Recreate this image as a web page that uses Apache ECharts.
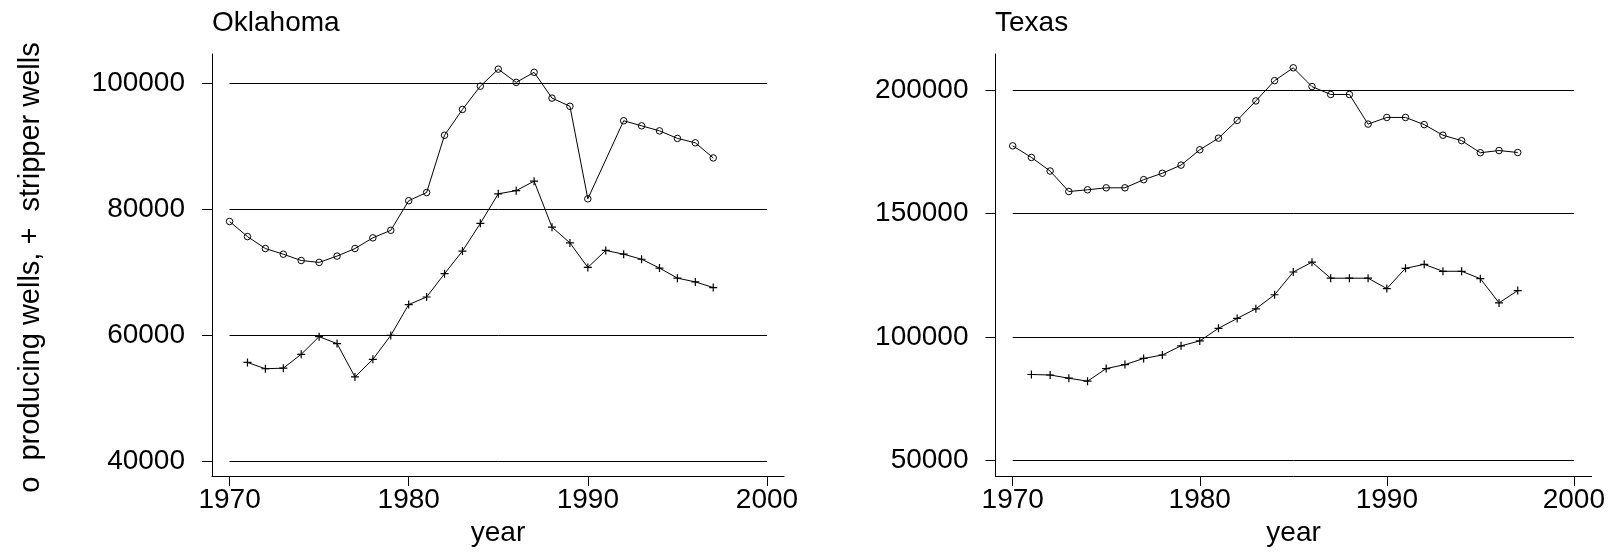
<!DOCTYPE html>
<html>
<head>
<meta charset="utf-8">
<title>Producing and stripper wells</title>
<script src="https://cdn.jsdelivr.net/npm/echarts@6/dist/echarts.min.js"></script>
<style>
  html, body { margin: 0; padding: 0; background: #fff; }
  #chart { width: 1608px; height: 552px; }
</style>
</head>
<body>
<div id="chart"></div>
<script>
// Oil wells by year, 1970-1997
const years = [1970, 1971, 1972, 1973, 1974, 1975, 1976, 1977, 1978, 1979,
               1980, 1981, 1982, 1983, 1984, 1985, 1986, 1987, 1988, 1989,
               1990, 1991, 1992, 1993, 1994, 1995, 1996, 1997];

const okProducing = [78100, 75700, 73800, 72900, 71900, 71600, 72600, 73800, 75500, 76700,
                     81400, 82700, 91800, 95900, 99600, 102300, 100200, 101800, 97700, 96400,
                     81700, null, 94100, 93300, 92500, 91300, 90600, 88200];
const okStripper = [null, 55700, 54700, 54800, 57000, 59800, 58700, 53400, 56200, 60000,
                    64900, 66100, 69800, 73400, 77800, 82500, 83000, 84500, 77200, 74700,
                    70800, 73500, 72900, 72100, 70700, 69100, 68500, 67600];

const txProducing = [177500, 172800, 167300, 159000, 159700, 160500, 160500, 163800, 166400, 169700,
                     175900, 180600, 187800, 195700, 203900, 209100, 201500, 198300, 198300, 186300,
                     189000, 189000, 186100, 181800, 179600, 174700, 175600, 174800];
const txStripper = [null, 84900, 84700, 83400, 82200, 87300, 88900, 91400, 92800, 96500,
                    98500, 103600, 107600, 111500, 117200, 126400, 130400, 123900, 123900, 123900,
                    119700, 127900, 129500, 126700, 126700, 123700, 113900, 118900];

const panelTitles = ['Oklahoma', 'Texas'];
const yearTicks = [1970, 1980, 1990, 2000];
const okTicks = [40000, 60000, 80000, 100000];
const txTicks = [50000, 100000, 150000, 200000];
const yTitle = 'o  producing wells, +  stripper wells';
const xTitle = 'year';

const FONT = 'Liberation Sans, Arial, Helvetica, sans-serif';
const plusPath = 'path://M0,5L10,5M5,0L5,10';

// keep only the years that have a value, so the line joins across gaps
function pairs(vals) {
  const out = [];
  vals.forEach((v, i) => { if (v !== null) out.push([years[i], v]); });
  return out;
}

// horizontal reference lines spanning the first to the last year tick
function gridLines(ticks) {
  return ticks.map(t => [{ coord: [yearTicks[0], t] }, { coord: [yearTicks[yearTicks.length - 1], t] }]);
}

function xAxisFor(idx, min, max) {
  return {
    type: 'value', gridIndex: idx, min: min, max: max,
    name: xTitle, nameLocation: 'middle', nameGap: 38,
    nameTextStyle: { fontSize: 28, color: '#000', fontFamily: FONT },
    axisLine: { show: true, lineStyle: { color: '#000', width: 1 } },
    axisTick: { show: true, length: 10, lineStyle: { color: '#000', width: 1 }, customValues: yearTicks },
    axisLabel: { fontSize: 28, color: '#000', fontFamily: FONT, margin: 10,
                 customValues: yearTicks, formatter: v => String(v) },
    splitLine: { show: false }
  };
}

function yAxisFor(idx, min, max, ticks) {
  return {
    type: 'value', gridIndex: idx, min: min, max: max,
    axisLine: { show: true, lineStyle: { color: '#000', width: 1 } },
    axisTick: { show: true, length: 10, lineStyle: { color: '#000', width: 1 }, customValues: ticks },
    axisLabel: { fontSize: 28, color: '#000', fontFamily: FONT, margin: 27,
                 customValues: ticks, formatter: v => String(v) },
    splitLine: { show: false }
  };
}

function lineSeries(idx, vals, marker, ticks) {
  const s = {
    type: 'line', xAxisIndex: idx, yAxisIndex: idx,
    data: pairs(vals),
    symbol: marker === 'o' ? 'circle' : plusPath,
    symbolSize: marker === 'o' ? 6.5 : 8,
    showAllSymbol: true,
    lineStyle: { color: '#000', width: 1 },
    itemStyle: marker === 'o'
      ? { color: 'rgba(0,0,0,0)', borderColor: '#000', borderWidth: 1 }
      : { color: '#000', borderColor: '#000', borderWidth: 1.2 },
    emphasis: { disabled: true },
    z: 3
  };
  if (ticks) {
    s.markLine = {
      silent: true, symbol: 'none', label: { show: false },
      lineStyle: { color: '#000', width: 1, type: 'solid' },
      data: gridLines(ticks), z: 1
    };
  }
  return s;
}

const chart = echarts.init(document.getElementById('chart'), null, { renderer: 'canvas' });

chart.setOption({
  animation: false,
  backgroundColor: '#fff',
  title: [
    { text: panelTitles[0], left: 212, top: 9, padding: 0,
      textStyle: { fontSize: 28, fontWeight: 'normal', color: '#000', fontFamily: FONT } },
    { text: panelTitles[1], left: 995, top: 9, padding: 0,
      textStyle: { fontSize: 28, fontWeight: 'normal', color: '#000', fontFamily: FONT } }
  ],
  grid: [
    { left: 212, top: 54, width: 572, height: 427 },
    { left: 995.5, top: 54, width: 605, height: 427 }
  ],
  xAxis: [
    xAxisFor(0, 1969.02, 2000.95),
    xAxisFor(1, 1969.08, 2000.95)
  ],
  yAxis: [
    yAxisFor(0, 37645, 104710, okTicks),
    yAxisFor(1, 43755, 214690, txTicks)
  ],
  graphic: [{
    type: 'text', x: 31, y: 267.5, rotation: Math.PI / 2,
    style: { text: yTitle, fontSize: 29, fill: '#000', fontFamily: FONT,
             align: 'center', verticalAlign: 'middle' }
  }],
  series: [
    lineSeries(0, okProducing, 'o', okTicks),
    lineSeries(0, okStripper, '+'),
    lineSeries(1, txProducing, 'o', txTicks),
    lineSeries(1, txStripper, '+')
  ]
});
</script>
</body>
</html>
